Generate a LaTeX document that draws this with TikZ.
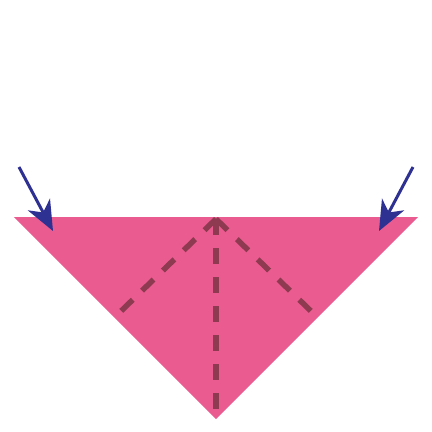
\documentclass[tikz,border=0pt]{standalone}
\usepackage{xcolor}
\usepackage{tikz}
\usetikzlibrary{arrows.meta}

\definecolor{paper}{HTML}{EA5B90}
\definecolor{fold}{HTML}{8E3A50}
\definecolor{push}{HTML}{2E3192}

\begin{document}
\begin{tikzpicture}[x=1pt,y=-1pt]
  \useasboundingbox (0,0) rectangle (432,432);
  % 纸
  \fill[paper] (14,217)--(418,217)--(216,419)--cycle;
  % 折线
  \draw[fold, line width=5.5pt, dash pattern=on 16pt off 13pt] (216,219)--(216,410);
  \draw[fold, line width=5.5pt, dash pattern=on 16pt off 13pt] (216,219)--(118,314);
  \draw[fold, line width=5.5pt, dash pattern=on 16pt off 13pt] (216,219)--(314,314);
  % 箭头
  \draw[-{Stealth[length=30pt,width=25pt,inset=9pt]}, push, line width=3pt] (19,167)--(53,231);
  \draw[-{Stealth[length=30pt,width=25pt,inset=9pt]}, push, line width=3pt] (413,167)--(379,231);
\end{tikzpicture}
\end{document}
